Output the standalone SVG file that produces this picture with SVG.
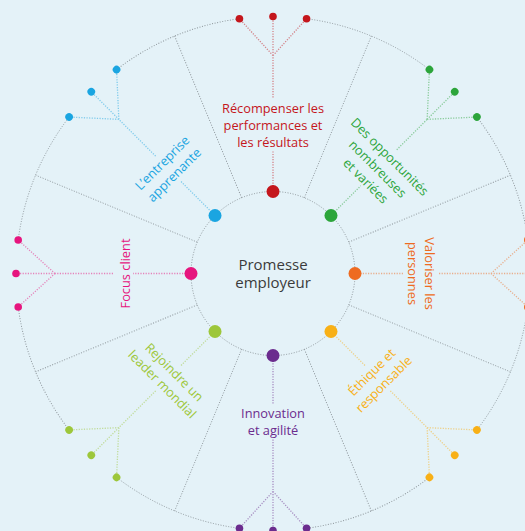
<svg xmlns="http://www.w3.org/2000/svg" xmlns:xlink="http://www.w3.org/1999/xlink" width="525" height="531" viewBox="0 0 525 531">
  <style>
    .ring { fill: none; stroke: #8e979c; stroke-width: 1; stroke-dasharray: 1 1.6; }
    .sep { stroke: #8e979c; stroke-width: 1; stroke-dasharray: 1 1.6; }
    .stem { fill: none; stroke-width: 1.3; stroke-dasharray: 1.2 1.4; opacity: 0.5; }
    .lbl { font-family: "Open Sans", "Noto Sans", "DejaVu Sans", sans-serif; font-size: 12.8px; font-weight: 500; text-anchor: middle; }
    .center { font-family: "Open Sans", "Noto Sans", "DejaVu Sans", sans-serif; font-size: 15px; fill: #3b3b3b; text-anchor: middle; }
  </style>
  <defs>
    <path id="arc" d="M306.55,18.70 A257,257 0 0,1 429.45,69.61"/>
    <line id="sepline" x1="304.38" y1="197.74" x2="371.35" y2="36.06"/>
    <g id="outer">
      <circle cx="239.45" cy="18.70" r="3.8"/>
      <circle cx="273" cy="16.5" r="3.8"/>
      <circle cx="306.55" cy="18.70" r="3.8"/>
      <circle cx="273" cy="191.5" r="6.5"/>
    </g>
    <path id="fork" d="M273,55.5 L239.45,18.70 M273,55.5 L273,16.5 M273,55.5 L306.55,18.70"/>
  </defs>

  <rect x="0" y="0" width="525" height="531" fill="#e4f2f8"/>

  <g id="connectors">
    <circle class="ring" cx="273" cy="273.5" r="82"/>
    <g class="ring">
      <use xlink:href="#arc"/>
      <use xlink:href="#arc" transform="rotate(45 273 273.5)"/>
      <use xlink:href="#arc" transform="rotate(90 273 273.5)"/>
      <use xlink:href="#arc" transform="rotate(135 273 273.5)"/>
      <use xlink:href="#arc" transform="rotate(180 273 273.5)"/>
      <use xlink:href="#arc" transform="rotate(225 273 273.5)"/>
      <use xlink:href="#arc" transform="rotate(270 273 273.5)"/>
      <use xlink:href="#arc" transform="rotate(315 273 273.5)"/>
    </g>
    <g class="sep">
      <use xlink:href="#sepline"/>
      <use xlink:href="#sepline" transform="rotate(45 273 273.5)"/>
      <use xlink:href="#sepline" transform="rotate(90 273 273.5)"/>
      <use xlink:href="#sepline" transform="rotate(135 273 273.5)"/>
      <use xlink:href="#sepline" transform="rotate(180 273 273.5)"/>
      <use xlink:href="#sepline" transform="rotate(225 273 273.5)"/>
      <use xlink:href="#sepline" transform="rotate(270 273 273.5)"/>
      <use xlink:href="#sepline" transform="rotate(315 273 273.5)"/>
    </g>
    <!-- red (top) -->
    <g class="stem" stroke="#c4161c">
      <path d="M273,191.5 V151.5 M273,97.5 V55.5"/>
      <use xlink:href="#fork"/>
    </g>
    <!-- green -->
    <g class="stem" stroke="#2ca53b" transform="rotate(45 273 273.5)">
      <path d="M273,191.5 V149.5 M273,98.5 V55.5"/>
      <use xlink:href="#fork"/>
    </g>
    <!-- orange -->
    <g class="stem" stroke="#ee6b21" transform="rotate(90 273 273.5)">
      <path d="M273,191.5 V143.5 M273,107.5 V55.5"/>
      <use xlink:href="#fork"/>
    </g>
    <!-- yellow -->
    <g class="stem" stroke="#f8b016" transform="rotate(135 273 273.5)">
      <path d="M273,191.5 V143.5 M273,107.5 V55.5"/>
      <use xlink:href="#fork"/>
    </g>
    <!-- purple -->
    <g class="stem" stroke="#6b2c8e" transform="rotate(180 273 273.5)">
      <path d="M273,191.5 V143.5 M273,107.5 V55.5"/>
      <use xlink:href="#fork"/>
    </g>
    <!-- light green -->
    <g class="stem" stroke="#9dc73a" transform="rotate(225 273 273.5)">
      <path d="M273,191.5 V143.5 M273,107.5 V55.5"/>
      <use xlink:href="#fork"/>
    </g>
    <!-- pink -->
    <g class="stem" stroke="#e6157e" transform="rotate(270 273 273.5)">
      <path d="M273,191.5 V133.5 M273,113.5 V55.5"/>
      <use xlink:href="#fork"/>
    </g>
    <!-- blue -->
    <g class="stem" stroke="#1aa5e1" transform="rotate(315 273 273.5)">
      <path d="M273,191.5 V143.5 M273,107.5 V55.5"/>
      <use xlink:href="#fork"/>
    </g>
  </g>

  <g id="node-center">
    <text class="center" x="273" y="270">Promesse</text>
    <text class="center" x="273" y="288">employeur</text>
  </g>

  <g id="node-recompenser">
    <use xlink:href="#outer" fill="#c4161c"/>
    <g class="lbl" fill="#c4161c" transform="translate(273 125.5)">
      <text y="-12.5">Récompenser les</text>
      <text y="4.5">performances et</text>
      <text y="21.5">les résultats</text>
    </g>
  </g>

  <g id="node-opportunites">
    <use xlink:href="#outer" fill="#2ca53b" transform="rotate(45 273 273.5)"/>
    <g class="lbl" fill="#2ca53b" transform="translate(377.7 168.8) rotate(45)">
      <text y="-12.5">Des opportunités</text>
      <text y="4.5">nombreuses</text>
      <text y="21.5">et variées</text>
    </g>
  </g>

  <g id="node-valoriser">
    <use xlink:href="#outer" fill="#ee6b21" transform="rotate(90 273 273.5)"/>
    <g class="lbl" fill="#ee6b21" transform="translate(421 273.5) rotate(90)">
      <text y="-4">Valoriser les</text>
      <text y="13">personnes</text>
    </g>
  </g>

  <g id="node-ethique">
    <use xlink:href="#outer" fill="#f8b016" transform="rotate(135 273 273.5)"/>
    <g class="lbl" fill="#f8b016" transform="translate(377.7 378.2) rotate(-45)">
      <text y="-4">Éthique et</text>
      <text y="13">responsable</text>
    </g>
  </g>

  <g id="node-innovation">
    <use xlink:href="#outer" fill="#6b2c8e" transform="rotate(180 273 273.5)"/>
    <g class="lbl" fill="#6b2c8e" transform="translate(273 421.5)">
      <text y="-4">Innovation</text>
      <text y="13">et agilité</text>
    </g>
  </g>

  <g id="node-rejoindre">
    <use xlink:href="#outer" fill="#9dc73a" transform="rotate(225 273 273.5)"/>
    <g class="lbl" fill="#9dc73a" transform="translate(168.3 378.2) rotate(45)">
      <text y="-4">Rejoindre un</text>
      <text y="13">leader mondial</text>
    </g>
  </g>

  <g id="node-focus">
    <use xlink:href="#outer" fill="#e6157e" transform="rotate(270 273 273.5)"/>
    <g class="lbl" fill="#e6157e" transform="translate(125 273.5) rotate(-90)">
      <text y="4.5">Focus client</text>
    </g>
  </g>

  <g id="node-apprenante">
    <use xlink:href="#outer" fill="#1aa5e1" transform="rotate(315 273 273.5)"/>
    <g class="lbl" fill="#1aa5e1" transform="translate(168.3 168.8) rotate(-45)">
      <text y="-4">L’entreprise</text>
      <text y="13">apprenante</text>
    </g>
  </g>
</svg>
